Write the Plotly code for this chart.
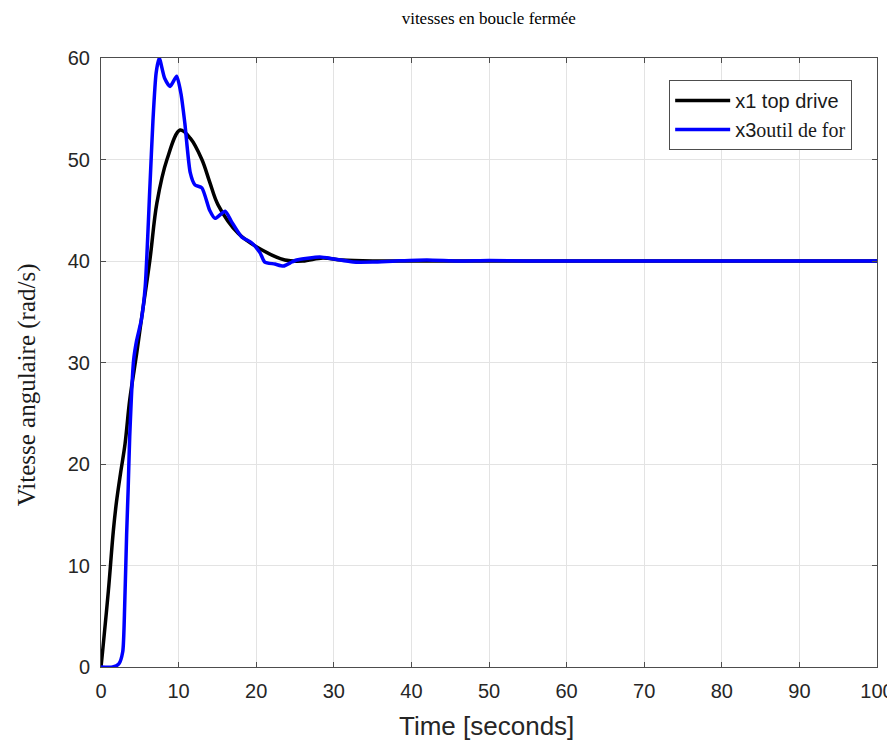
import plotly.graph_objects as go

# x1 top drive (black)
t_x1 = [0, 0.2, 0.95, 1.6, 2.0, 2.5, 3.1, 3.7, 4.6, 5.2, 6.3, 7.2, 8.5, 10.2, 11.5, 13.0,
        14.0, 15.1, 17.7, 20.7, 23.7, 26.0, 28.6, 31.0, 35.0, 40.0, 100.0]
y_x1 = [0, 1.5, 7.5, 13.5, 16.3, 19.0, 22.0, 26.3, 30.9, 34.2, 40.1, 45.7, 50.0, 52.9, 52.1, 50.0,
        47.8, 45.5, 42.7, 41.1, 40.1, 40.0, 40.3, 40.1, 40.0, 40.0, 40.0]

# x3 outil de for (blue)
t_x3 = [0, 1.5, 2.3, 2.8, 3.05, 3.3, 3.5, 3.7, 4.2, 4.6, 5.2, 5.7, 6.3, 6.7, 7.1, 7.5, 8.2, 8.9,
        9.75, 10.3, 10.8, 11.5, 12.1, 13.0, 14.0, 14.7, 16.0, 16.8, 18.1, 19.4, 20.5, 21.1, 22.4,
        23.5, 24.6, 25.2, 28.2, 30.0, 32.5, 35.0, 38.0, 42.0, 46.0, 50.0, 55.0, 60.0, 100.0]
y_x3 = [0, 0, 0.3, 1.5, 6.0, 13.0, 17.5, 22.7, 30.2, 32.2, 34.2, 37.5, 47.3, 53.9, 58.5, 60.0, 58.0,
        57.2, 58.2, 56.5, 53.6, 48.7, 47.5, 47.2, 45.0, 44.2, 44.9, 43.9, 42.4, 41.8, 40.8, 39.9,
        39.7, 39.5, 39.9, 40.1, 40.4, 40.2, 39.9, 39.9, 40.0, 40.1, 40.0, 40.05, 40.0, 40.0, 40.0]

x_ticks = list(range(0, 101, 10))
y_ticks = list(range(0, 61, 10))

fig = go.Figure()
fig.add_trace(go.Scatter(x=t_x1, y=y_x1, mode="lines", name="x1 top drive",
                         line=dict(color="#000000", width=3.5, shape="spline", smoothing=1.0)))
fig.add_trace(go.Scatter(x=t_x3, y=y_x3, mode="lines",
                         name="x3<span style='font-family:Liberation Serif'>outil de for</span>",
                         line=dict(color="#0000ff", width=3.5, shape="spline", smoothing=0.6)))

axis_common = dict(showline=True, mirror="ticks", linecolor="#4d4d4d", linewidth=1,
                   ticks="inside", ticklen=5, tickcolor="#4d4d4d", automargin=False,
                   showgrid=True, gridcolor="#e3e3e3", gridwidth=1, zeroline=False,
                   ticklabelstandoff=6,
                   tickfont=dict(family="Liberation Sans, Arial", size=20, color="#262626"))

fig.update_xaxes(range=[0, 100], tickvals=x_ticks, **axis_common)
fig.update_yaxes(range=[0, 60], tickvals=y_ticks, **axis_common)

fig.add_annotation(text="Time [seconds]", xref="paper", yref="paper", x=0.497, y=-0.097,
                   xanchor="center", yanchor="middle", showarrow=False,
                   font=dict(family="Liberation Sans, Arial", size=26, color="#262626"))
fig.add_annotation(text="Vitesse angulaire (rad/s)", xref="paper", yref="paper", x=-0.095, y=0.463,
                   xanchor="center", yanchor="middle", showarrow=False, textangle=-90,
                   font=dict(family="Liberation Serif, Times New Roman", size=25, color="#1a1a1a"))

fig.update_layout(
    width=887, height=734,
    margin=dict(l=93, r=18, t=50, b=75),
    paper_bgcolor="white", plot_bgcolor="white",
    title=dict(text="vitesses en boucle fermée", x=0.542, xanchor="center", y=0.986, yanchor="middle",
               font=dict(family="Liberation Serif, Times New Roman", size=17, color="#000000")),
    legend=dict(x=0.968, xanchor="right", y=0.964, yanchor="top",
                bordercolor="#4d4d4d", borderwidth=1, bgcolor="white",
                font=dict(family="Liberation Sans, Arial", size=20, color="#1a1a1a"),
                itemwidth=55, tracegroupgap=0),
    showlegend=True,
)

fig.write_html("out.html")
